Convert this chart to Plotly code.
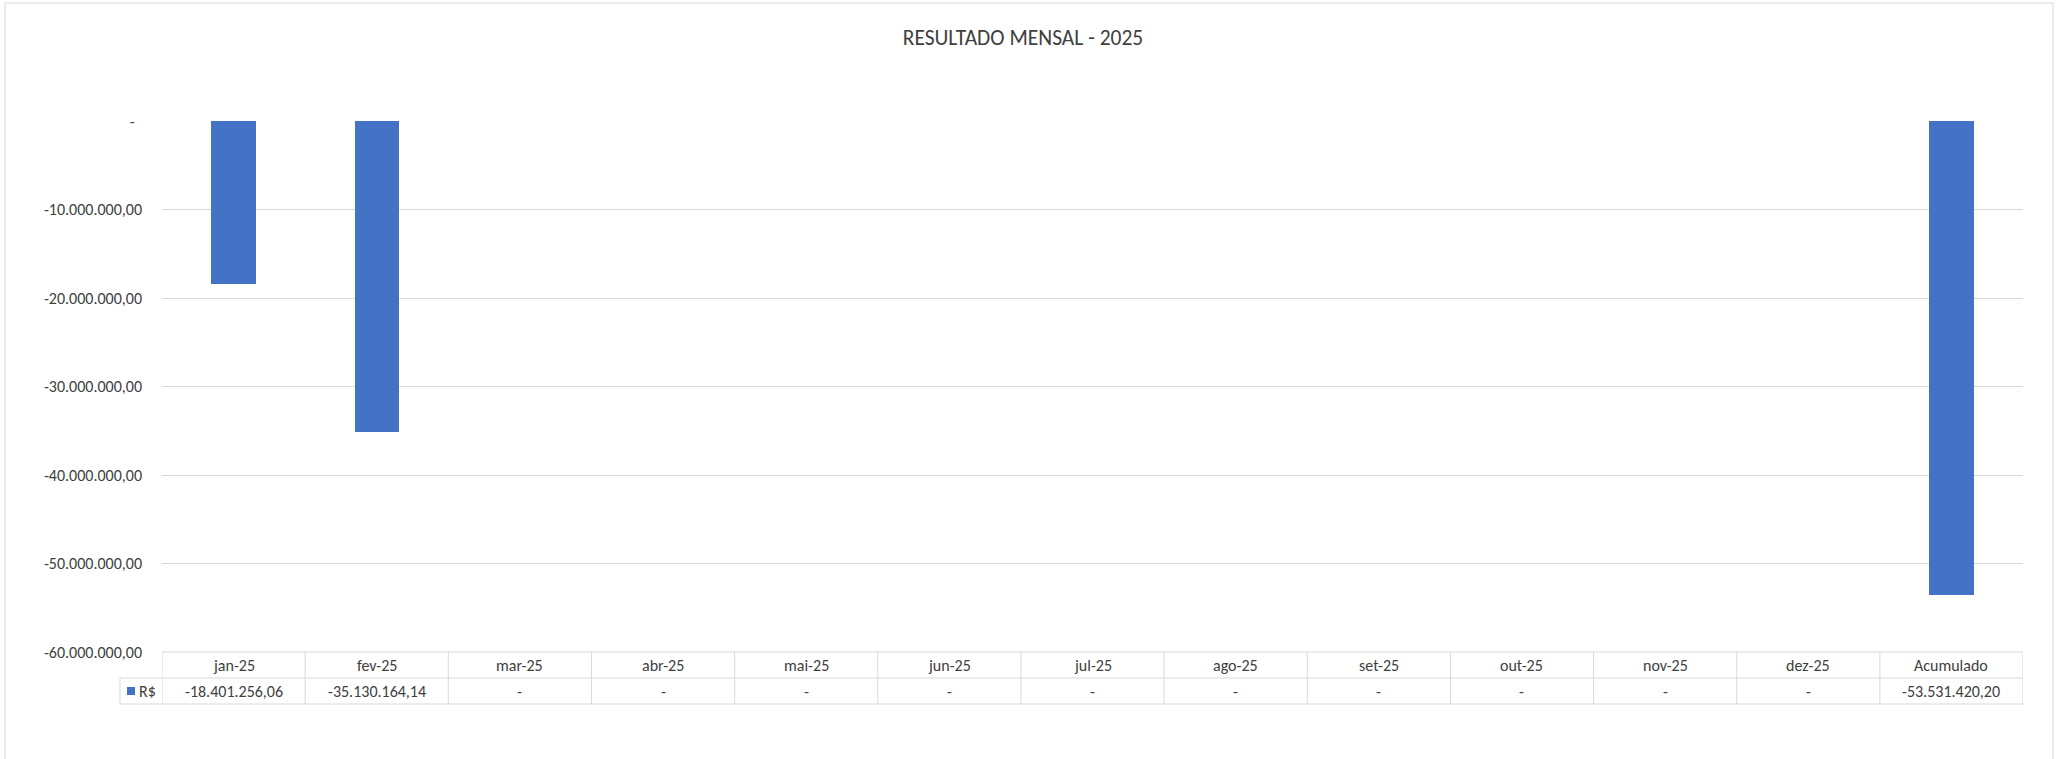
import plotly.graph_objects as go

# ---------------- data ----------------
categories = ["jan-25", "fev-25", "mar-25", "abr-25", "mai-25", "jun-25",
              "jul-25", "ago-25", "set-25", "out-25", "nov-25", "dez-25", "Acumulado"]
values = [-18401256.06, -35130164.14, 0, 0, 0, 0, 0, 0, 0, 0, 0, 0, -53531420.20]
series_name = "R$"
y_ticks = [0, -10000000, -20000000, -30000000, -40000000, -50000000, -60000000]
title_text = "RESULTADO MENSAL - 2025"

# ---------------- style / layout ----------------
W_FIG, H_FIG = 2060, 759
L, R, T, B = 162, 37, 121, 107
PW, PH = W_FIG - L - R, H_FIG - T - B
BAR = "#4472C4"
GRID = "#d9d9d9"
TXT = "#404040"
FONT = "Calibri, Carlito, Lato, sans-serif"
FS = 16


def fmt_br(v):
    if v == 0:
        return "-"
    s = f"{abs(v):,.2f}".replace(",", "X").replace(".", ",").replace("X", ".")
    return ("-" if v < 0 else "") + s


def px_x(px):
    return (px - L) / PW


def px_y(py):
    return 1 - (py - T) / PH


tick_text = [("-\u00a0\u00a0" if v == 0 else fmt_br(v)) for v in y_ticks]

fig = go.Figure()
fig.add_trace(go.Bar(
    x=list(range(len(categories))), y=values, name=series_name,
    marker=dict(color=BAR, line=dict(width=0)), width=0.31,
    hoverinfo="skip",
))

shapes = []
annotations = []

# table geometry (pixels)
t_top, t_mid, t_bot = 652, 678, 704
key_left = 120
n = len(categories)
line = dict(color=GRID, width=1)

shapes.append(dict(type="line", xref="x", yref="paper", x0=-0.5, x1=n - 0.5,
                   y0=px_y(t_top), y1=px_y(t_top), line=line))
for yy in (t_mid, t_bot):
    shapes.append(dict(type="line", xref="paper", yref="paper", x0=px_x(key_left), x1=1,
                       y0=px_y(yy), y1=px_y(yy), line=line))
for i in range(n + 1):
    shapes.append(dict(type="line", xref="x", yref="paper", x0=i - 0.5, x1=i - 0.5,
                       y0=px_y(t_top), y1=px_y(t_bot), line=line))
shapes.append(dict(type="line", xref="paper", yref="paper", x0=px_x(key_left), x1=px_x(key_left),
                   y0=px_y(t_mid), y1=px_y(t_bot), line=line))
# legend key square
shapes.append(dict(type="rect", xref="paper", yref="paper",
                   x0=px_x(127), x1=px_x(135), y0=px_y(695), y1=px_y(687),
                   fillcolor=BAR, line=dict(width=0)))
# outer chart border
shapes.append(dict(type="rect", xref="paper", yref="paper",
                   x0=px_x(5), x1=px_x(2053), y0=px_y(775), y1=px_y(3),
                   fillcolor="rgba(0,0,0,0)", line=dict(color=GRID, width=1), layer="below"))

for i, (c, v) in enumerate(zip(categories, values)):
    annotations.append(dict(x=i, y=px_y((t_top + t_mid) / 2), xref="x", yref="paper",
                            text=c, showarrow=False, xanchor="center", yanchor="middle",
                            font=dict(size=FS, color=TXT, family=FONT)))
    annotations.append(dict(x=i, y=px_y((t_mid + t_bot) / 2), xref="x", yref="paper",
                            text=fmt_br(v), showarrow=False, xanchor="center", yanchor="middle",
                            font=dict(size=FS, color=TXT, family=FONT)))
annotations.append(dict(x=px_x(137), y=px_y((t_mid + t_bot) / 2), xref="paper", yref="paper",
                        text=series_name, showarrow=False, xanchor="left", yanchor="middle",
                        font=dict(size=FS, color=TXT, family=FONT)))

fig.update_layout(
    width=W_FIG, height=H_FIG,
    margin=dict(l=L, r=R, t=T, b=B, pad=0),
    paper_bgcolor="white", plot_bgcolor="white",
    showlegend=False,
    title=dict(text=title_text, x=1023 / W_FIG, xref="container", xanchor="center",
               y=1 - 37 / H_FIG, yref="container", yanchor="middle",
               font=dict(size=21.5, color=TXT, family=FONT)),
    xaxis=dict(range=[-0.5, n - 0.5], showticklabels=False, showgrid=False,
               zeroline=False, showline=False, ticks=""),
    yaxis=dict(range=[-60000000, 0], tickvals=y_ticks, ticktext=tick_text,
               showgrid=True, gridcolor=GRID, gridwidth=1, zeroline=False,
               showline=False, ticks="", ticklabelstandoff=19,
               tickfont=dict(size=FS, color=TXT, family=FONT)),
    shapes=shapes, annotations=annotations,
    bargap=0,
)

fig.write_html("out.html", config={"displayModeBar": False})

# remove the browser's default page margin so the figure sits at (0, 0)
with open("out.html", "r", encoding="utf-8") as f:
    html = f.read()
html = html.replace("<head>", "<head><style>html,body{margin:0;padding:0;overflow:hidden;}</style>", 1)
with open("out.html", "w", encoding="utf-8") as f:
    f.write(html)
